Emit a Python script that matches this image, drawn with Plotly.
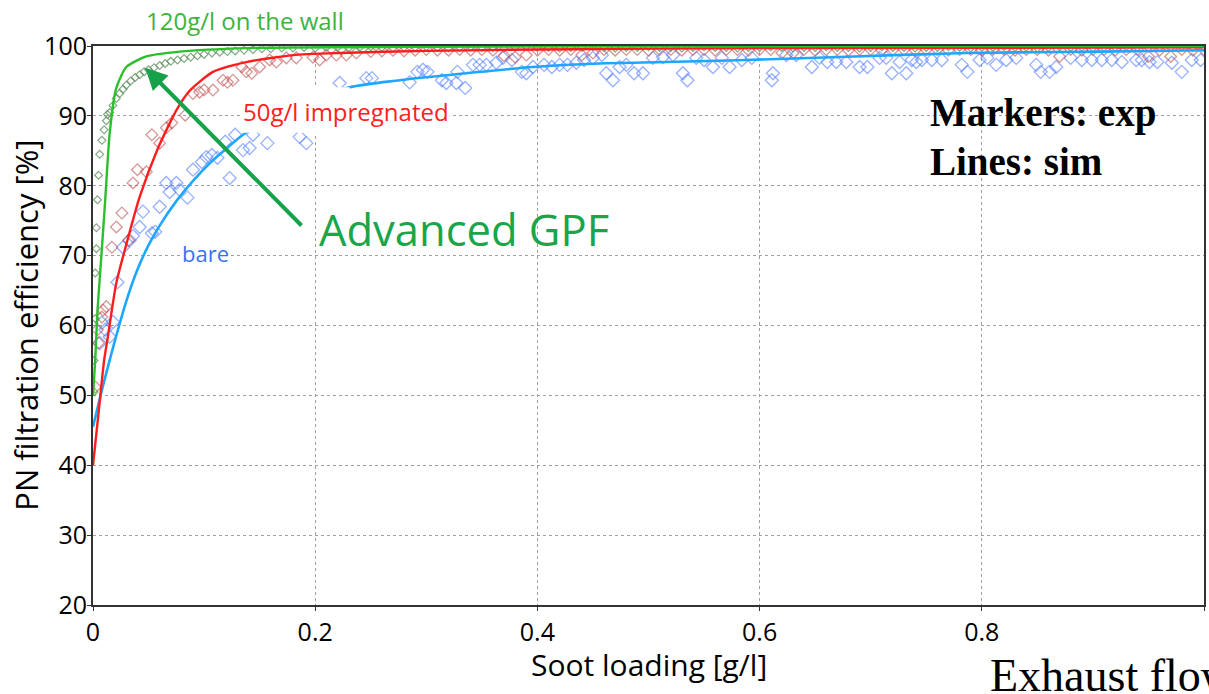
import plotly.graph_objects as go

# ---- experimental points (markers) ----
green_exp_x = [0.001, 0.001, 0.002, 0.002, 0.003, 0.003, 0.004, 0.005, 0.006, 0.008,
               0.010, 0.012, 0.013, 0.015, 0.018, 0.021, 0.024, 0.027, 0.030, 0.034,
               0.038, 0.042, 0.046, 0.050, 0.055, 0.060, 0.065, 0.070, 0.076, 0.082,
               0.088, 0.094, 0.100, 0.107, 0.114, 0.121, 0.128, 0.136, 0.144, 0.152,
               0.16, 0.17, 0.18, 0.19, 0.20, 0.21, 0.22, 0.23, 0.24, 0.25,
               0.26, 0.27, 0.28, 0.29, 0.30, 0.31, 0.32, 0.33, 0.34, 0.35,
               0.36, 0.37, 0.38, 0.39, 0.40, 0.41, 0.42, 0.43, 0.44, 0.45,
               0.46, 0.47, 0.48, 0.49, 0.50, 0.51, 0.52, 0.53, 0.54, 0.55,
               0.56, 0.57, 0.58, 0.59, 0.60, 0.61, 0.62, 0.63, 0.64, 0.65,
               0.66, 0.67, 0.68, 0.69, 0.70, 0.71, 0.72, 0.73, 0.74, 0.75,
               0.76, 0.77, 0.78, 0.79, 0.80, 0.81, 0.82, 0.83, 0.84, 0.85,
               0.86, 0.87, 0.88, 0.89, 0.90, 0.91, 0.92, 0.93, 0.94, 0.95,
               0.96, 0.97, 0.98, 0.99, 1.00]
green_exp_y = [50.5, 55.0, 61.0, 67.5, 71.0, 74.0, 78.0, 81.5, 84.5, 86.5,
               88.0, 89.3, 90.2, 90.5, 91.5, 92.5, 93.2, 93.8, 94.4, 95.0,
               95.5, 95.9, 96.3, 96.6, 96.9, 97.2, 97.5, 97.8, 98.0, 98.2,
               98.4, 98.6, 98.8, 99.0, 99.1, 99.2, 99.3, 99.4, 99.5, 99.6,
               99.6, 99.7, 99.7, 99.8, 99.7, 99.8, 99.8, 99.7, 99.8, 99.9,
               99.8, 99.7, 99.8, 99.8, 99.9, 99.8, 99.7, 99.8, 99.9, 99.8,
               99.8, 99.7, 99.8, 99.9, 99.8, 99.8, 99.7, 99.8, 99.8, 99.9,
               99.8, 99.7, 99.8, 99.8, 99.9, 99.8, 99.8, 99.7, 99.8, 99.9,
               99.8, 99.8, 99.7, 99.8, 99.8, 99.9, 99.8, 99.7, 99.8, 99.8,
               99.9, 99.8, 99.8, 99.7, 99.8, 99.9, 99.8, 99.8, 99.7, 99.8,
               99.8, 99.9, 99.8, 99.7, 99.8, 99.8, 99.9, 99.8, 99.8, 99.7,
               99.8, 99.9, 99.8, 99.8, 99.7, 99.8, 99.8, 99.9, 99.8, 99.7,
               99.8, 99.8, 99.9, 99.8, 99.8]

red_exp_x = [0.002, 0.004, 0.005, 0.008, 0.009, 0.012, 0.017, 0.021, 0.026, 0.032,
             0.036, 0.040, 0.048, 0.053, 0.060, 0.066, 0.071, 0.083, 0.090, 0.096,
             0.100, 0.108, 0.117, 0.121, 0.126, 0.134, 0.138, 0.143, 0.150, 0.159,
             0.165, 0.174, 0.183, 0.198, 0.204, 0.210, 0.219, 0.228, 0.237,
             0.25, 0.26, 0.27, 0.28, 0.29, 0.30, 0.31, 0.32, 0.33, 0.34,
             0.35, 0.36, 0.37, 0.38, 0.39, 0.40, 0.41, 0.42, 0.43, 0.44,
             0.45, 0.46, 0.47, 0.48, 0.49, 0.50, 0.51, 0.52, 0.53, 0.54,
             0.55, 0.56, 0.57, 0.58, 0.59, 0.60, 0.61, 0.62, 0.63, 0.64,
             0.65, 0.66, 0.67, 0.68, 0.69, 0.70, 0.71, 0.72, 0.73, 0.74,
             0.75, 0.76, 0.77, 0.78, 0.79, 0.80, 0.81, 0.82, 0.83, 0.84,
             0.85, 0.86, 0.87, 0.88, 0.89, 0.90, 0.91, 0.92, 0.93, 0.94,
             0.95, 0.96, 0.97, 0.98, 0.99, 1.00]
red_exp_y = [51.2, 59.4, 57.5, 61.2, 62.2, 62.7, 71.2, 74.1, 76.1, 72.2,
             80.4, 82.3, 82.0, 87.3, 86.1, 88.3, 89.0, 90.1, 93.2, 93.4,
             93.7, 93.7, 95.1, 94.8, 95.1, 97.0, 96.3, 96.1, 97.0, 98.0,
             97.7, 98.3, 98.3, 98.4, 98.0, 98.7, 98.7, 98.7, 99.0,
             99.2, 99.3, 99.4, 99.3, 99.4, 99.5, 99.4, 99.4, 99.5, 99.4,
             99.5, 99.4, 98.6, 98.4, 98.7, 99.4, 99.5, 99.4, 99.5, 98.7,
             99.0, 99.5, 99.4, 99.5, 99.5, 99.4, 99.5, 99.5, 99.4, 99.5,
             99.5, 99.4, 99.5, 99.5, 99.4, 99.5, 99.5, 99.0, 99.0, 99.5,
             99.4, 99.5, 99.5, 99.4, 99.5, 99.5, 99.4, 99.5, 99.5, 99.4,
             99.5, 99.5, 99.4, 99.5, 99.5, 99.4, 99.5, 99.5, 99.4, 99.5,
             99.5, 99.4, 98.5, 99.5, 99.4, 99.5, 99.5, 99.4, 99.5, 99.5,
             98.5, 99.4, 98.5, 99.5, 99.4, 99.5]

blue_exp_x = [0.006, 0.008, 0.011, 0.015, 0.018, 0.022, 0.027, 0.033, 0.036, 0.042,
              0.045, 0.053, 0.056, 0.060, 0.066, 0.069, 0.075, 0.078, 0.085, 0.090,
              0.098, 0.102, 0.107, 0.112, 0.119, 0.123, 0.128, 0.135, 0.141, 0.144,
              0.157, 0.186, 0.192,
              0.222, 0.246, 0.251, 0.285, 0.292, 0.297, 0.301, 0.314, 0.318, 0.327,
              0.328, 0.335, 0.342, 0.348, 0.354, 0.363, 0.369, 0.377, 0.386, 0.390,
              0.396, 0.406, 0.413, 0.420, 0.427, 0.435, 0.442, 0.450, 0.458, 0.462,
              0.468, 0.474, 0.480,
              0.487, 0.495, 0.504, 0.513, 0.522, 0.531, 0.535, 0.543, 0.550, 0.558,
              0.566, 0.573, 0.584, 0.593, 0.611, 0.612, 0.624, 0.633, 0.647, 0.654,
              0.661, 0.669, 0.678, 0.690, 0.697, 0.708, 0.714, 0.719, 0.726, 0.732,
              0.737,
              0.741, 0.746, 0.755, 0.764, 0.782, 0.787, 0.798, 0.805, 0.813, 0.822,
              0.831, 0.849, 0.853, 0.861, 0.867, 0.880, 0.890, 0.899, 0.908, 0.917,
              0.926, 0.939, 0.944, 0.951, 0.958, 0.971, 0.980, 0.989, 0.997]
blue_exp_y = [57.5, 60.4, 59.4, 58.4, 60.5, 66.2, 71.2, 72.2, 72.8, 74.1,
              76.3, 73.2, 73.4, 77.0, 80.4, 79.1, 80.4, 79.4, 78.3, 82.3,
              83.4, 84.1, 84.4, 84.0, 86.3, 81.1, 87.3, 85.1, 85.4, 87.3,
              86.1, 87.0, 86.1,
              94.7, 95.4, 95.4, 94.8, 96.3, 96.6, 96.3, 95.1, 94.7, 94.7,
              96.3, 94.0, 97.3, 97.3, 97.3, 97.6, 98.3, 98.0, 96.3, 96.1,
              97.0, 97.3, 97.0, 97.3, 97.3, 97.6, 98.0, 98.3, 98.7, 96.1,
              95.1, 97.0, 97.3,
              96.1, 96.1, 98.3, 98.4, 98.7, 96.1, 95.1, 98.3, 98.0, 97.0,
              98.3, 97.0, 98.0, 98.3, 95.1, 96.1, 98.7, 98.7, 97.0, 98.3,
              97.7, 97.7, 97.7, 97.0, 97.0, 98.3, 98.3, 96.1, 97.7, 96.1,
              98.0,
              97.7, 98.0, 98.0, 98.0, 97.3, 96.3, 98.0, 98.3, 97.3, 98.0,
              98.3, 97.3, 96.3, 96.3, 97.0, 98.3, 98.0, 98.0, 98.0, 98.0,
              97.7, 98.0, 98.0, 97.7, 97.7, 97.6, 96.3, 98.0, 98.0]

# ---- simulated curves (lines) ----
green_sim_x = [0.0, 0.002, 0.004, 0.008, 0.011, 0.015, 0.021, 0.030, 0.048, 0.078, 0.138, 0.30, 1.0]
green_sim_y = [50.0, 55.0, 62.0, 71.0, 78.0, 87.5, 94.0, 97.0, 98.5, 99.2, 99.7, 99.9, 100.0]

red_sim_x = [0.0, 0.005, 0.010, 0.013, 0.021, 0.031, 0.042, 0.058, 0.075, 0.087, 0.108, 0.138,
             0.180, 0.222, 0.30, 0.40, 0.60, 1.0]
red_sim_y = [40.0, 47.5, 55.0, 58.0, 66.1, 72.2, 78.4, 85.2, 90.8, 93.6, 96.3, 97.7,
             98.7, 99.0, 99.3, 99.5, 99.7, 99.8]

blue_sim_x = [0.0, 0.010, 0.020, 0.030, 0.040, 0.050, 0.060, 0.075, 0.090, 0.105, 0.120,
              0.135, 0.160, 0.190, 0.231, 0.276, 0.336, 0.396, 0.456, 0.516, 0.588,
              0.665, 0.786, 0.906, 1.0]
blue_sim_y = [45.5, 52.0, 58.0, 63.5, 68.0, 71.5, 74.3, 77.8, 80.7, 83.2, 85.3,
              87.3, 89.8, 92.0, 94.1, 95.1, 96.1, 97.0, 97.5, 97.7, 98.0,
              98.4, 99.0, 99.2, 99.4]

x_ticks = [0, 0.2, 0.4, 0.6, 0.8, 1]
x_tick_text = ["0", "0.2", "0.4", "0.6", "0.8", "1"]
y_ticks = [20, 30, 40, 50, 60, 70, 80, 90, 100]

fig = go.Figure()

# markers: experiment
fig.add_trace(go.Scatter(x=blue_exp_x, y=blue_exp_y, mode="markers",
                         marker=dict(symbol="diamond-open", size=10,
                                     color="rgba(80,125,255,0.6)", line=dict(width=1.3)),
                         showlegend=False))
fig.add_trace(go.Scatter(x=red_exp_x, y=red_exp_y, mode="markers",
                         marker=dict(symbol="diamond-open", size=9,
                                     color="rgba(190,80,80,0.6)", line=dict(width=1.3)),
                         showlegend=False))
fig.add_trace(go.Scatter(x=green_exp_x, y=green_exp_y, mode="markers",
                         marker=dict(symbol="diamond-open", size=6,
                                     color="rgba(90,140,90,0.75)", line=dict(width=1.2)),
                         showlegend=False))

# lines: simulation
fig.add_trace(go.Scatter(x=blue_sim_x, y=blue_sim_y, mode="lines",
                         line=dict(color="#1ea7ff", width=2.6, shape="spline", smoothing=0.8),
                         showlegend=False))
fig.add_trace(go.Scatter(x=red_sim_x, y=red_sim_y, mode="lines",
                         line=dict(color="#ff1c1c", width=2.4, shape="spline", smoothing=0.6),
                         showlegend=False))
fig.add_trace(go.Scatter(x=green_sim_x, y=green_sim_y, mode="lines",
                         line=dict(color="#2cbf2c", width=2.4, shape="spline", smoothing=0.6),
                         showlegend=False))

# blank patch over part of the bare curve
fig.add_shape(type="rect", xref="x", yref="y", x0=0.135, x1=0.231, y0=87.6, y1=94.1,
              fillcolor="white", line=dict(width=0), layer="above")

label_font = "Open Sans, Noto Sans, sans-serif"
serif_font = "Liberation Serif, DejaVu Serif, serif"

annotations = [
    dict(x=0.1366, y=1.0465, xref="paper", yref="paper", text="120g/l on the wall",
         showarrow=False, xanchor="center", yanchor="middle",
         font=dict(family=label_font, size=24, color="#3cb43c")),
    dict(x=0.228, y=90.6, xref="x", yref="y", text="50g/l impregnated", showarrow=False,
         bgcolor="white", borderpad=0,
         font=dict(family=label_font, size=24, color="#ff2020")),
    dict(x=0.101, y=70.4, xref="x", yref="y", text="bare", showarrow=False,
         bgcolor="white", borderpad=0,
         font=dict(family=label_font, size=22, color="#3a72f5")),
    dict(x=0.202, y=73.7, xref="x", yref="y", text="Advanced GPF", showarrow=False,
         xanchor="left", font=dict(family=label_font, size=43.5, color="#1aa54a")),
    dict(x=0.047, y=96.9, xref="x", yref="y", ax=0.189, ay=74.1, axref="x", ayref="y",
         text="", showarrow=True, arrowhead=2, arrowsize=1.1, arrowwidth=4,
         arrowcolor="#16a24a"),
    dict(x=0.752, y=90.4, xref="x", yref="y", text="<b>Markers: exp</b>", showarrow=False,
         xanchor="left", font=dict(family=serif_font, size=39, color="black")),
    dict(x=0.752, y=83.4, xref="x", yref="y", text="<b>Lines: sim</b>", showarrow=False,
         xanchor="left", font=dict(family=serif_font, size=39, color="black")),
    dict(x=-0.061, y=0.5, xref="paper", yref="paper", text="PN filtration efficiency [%]",
         textangle=-90, showarrow=False, xanchor="center", yanchor="middle",
         font=dict(family=label_font, size=31, color="black")),
    dict(x=0.5, y=-0.107, xref="paper", yref="paper", text="Soot loading [g/l]",
         showarrow=False, xanchor="center", yanchor="middle",
         font=dict(family=label_font, size=30, color="black")),
    dict(x=0.806, y=-0.127, xref="paper", yref="paper", text="Exhaust flow",
         showarrow=False, xanchor="left", yanchor="middle",
         font=dict(family=serif_font, size=46, color="black")),
]

fig.update_layout(
    width=1209, height=694,
    margin=dict(l=93, r=3, t=46, b=89),
    paper_bgcolor="white", plot_bgcolor="white",
    annotations=annotations,
    font=dict(family=label_font, color="black"),
)
fig.update_xaxes(range=[0, 1], tickvals=x_ticks, ticktext=x_tick_text,
                 showgrid=True, gridcolor="#a0a0a0", griddash="dot", gridwidth=1,
                 zeroline=False, showline=True, linecolor="#333", linewidth=2, mirror=True,
                 ticks="outside", ticklen=4, tickcolor="#333",
                 tickfont=dict(size=25, family=label_font, color="black"))
fig.update_yaxes(range=[20, 100], tickvals=y_ticks,
                 showgrid=True, gridcolor="#a0a0a0", griddash="dot", gridwidth=1,
                 zeroline=False, showline=True, linecolor="#333", linewidth=2, mirror=True,
                 ticks="outside", ticklen=4, tickcolor="#333", ticklabelstandoff=-5,
                 tickfont=dict(size=25, family=label_font, color="black"))

fig.write_html("out.html")
